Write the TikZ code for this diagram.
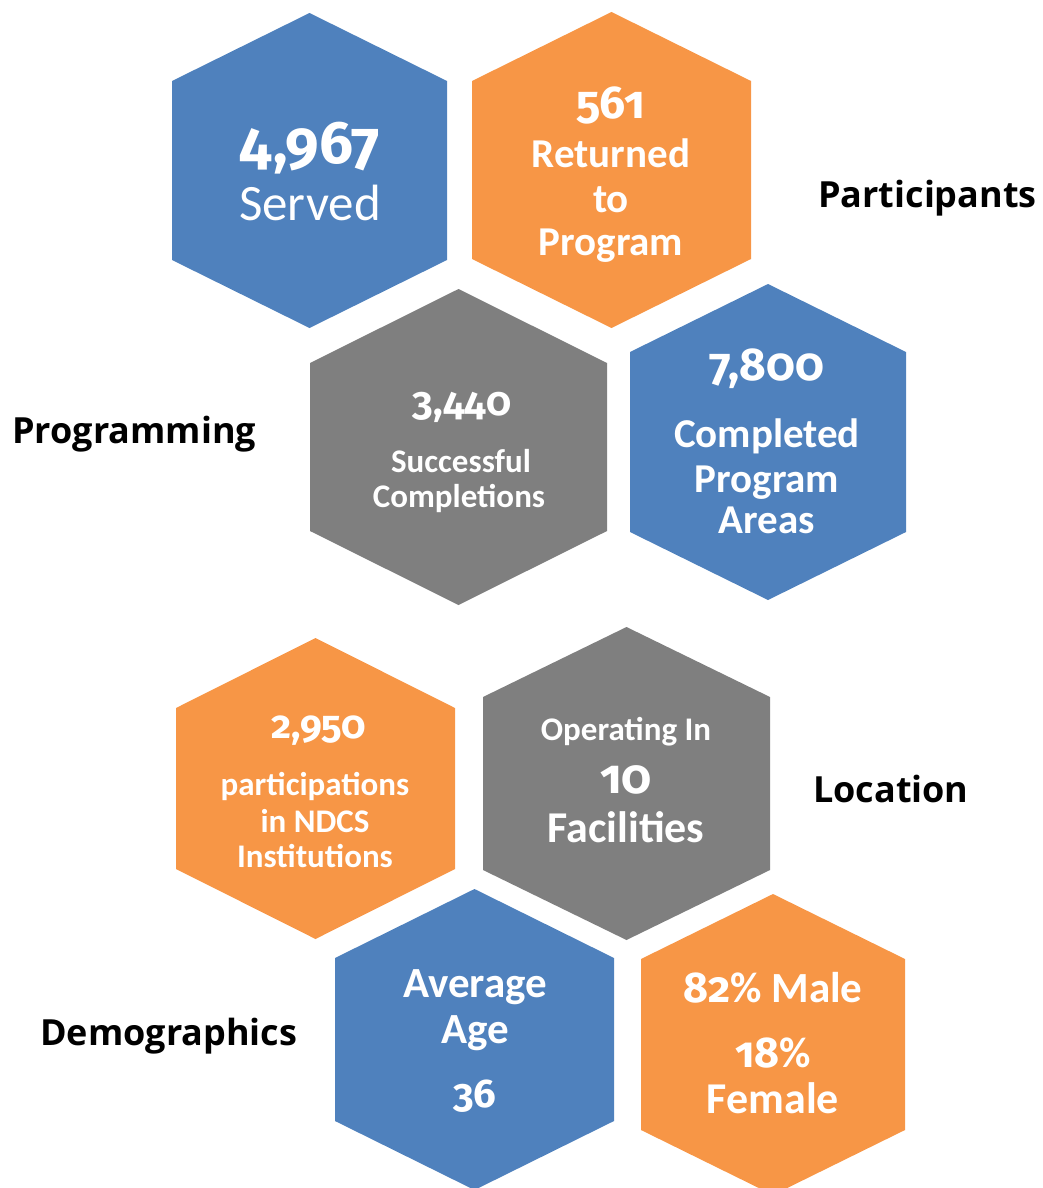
\documentclass[tikz,border=0pt]{standalone}
\usepackage{fontspec}
\setmainfont{Carlito}
\newfontfamily\numfont{Fira Sans}[Numbers=OldStyle]
\newfontfamily\labelfont{Open Sans}
\definecolor{hexblue}{HTML}{4F81BD}
\definecolor{hexorange}{HTML}{F79646}
\definecolor{hexgray}{HTML}{7F7F7F}
\newcommand\hexshape[6]{%
  \fill[#6] (#1,#3+#5) -- ({(#1+#2)/2},#3) -- (#2,#3+#5) -- (#2,#4-#5) -- ({(#1+#2)/2},#4) -- (#1,#4-#5) -- cycle;}
\newcommand\fs[1]{\fontsize{#1}{#1}\selectfont}
\begin{document}
\begin{tikzpicture}[x=1pt,y=-1pt,
  txt/.style={text=white, anchor=base, inner sep=0pt, font=\bfseries\fs{#1}},
  num/.style={text=white, anchor=base, inner sep=0pt, font=\numfont\bfseries\fs{#1}},
  lbl/.style={text=black, anchor=base west, inner sep=0pt, font=\labelfont\bfseries\fs{36}}]
\useasboundingbox (0,0) rectangle (1042,1188);
\clip (0,0) rectangle (1042,1188);
% hexagons
\hexshape{172}{447}{13}{328}{68}{hexblue}
\hexshape{472}{751}{12}{328}{69}{hexorange}
\hexshape{310}{607}{289}{605}{74}{hexgray}
\hexshape{630}{906}{284}{600}{68}{hexblue}
\hexshape{176}{455}{638}{939}{70}{hexorange}
\hexshape{483}{770}{627}{940}{70}{hexgray}
\hexshape{335}{614}{889}{1190}{69}{hexblue}
\hexshape{641}{905}{894}{1195}{65}{hexorange}
% hex 1
\node[num=60] (servedNum) at (310,163) {4,967};
\node[txt=51, font=\fs{51}] (served) at (310,220) {Served};
% hex 2
\node[num=46] (retNum) at (611,118) {561};
\node[txt=41] (ret1) at (611,167) {Returned};
\node[txt=41] (ret2) at (611,212) {to};
\node[txt=41] (ret3) at (611,255) {Program};
% hex 3
\node[num=40] (sucNum) at (462,415) {3,440};
\node[txt=33] (suc1) at (461,472) {Successful};
\node[txt=33] (suc2) at (459,507) {Completions};
% hex 4
\node[num=46] (cpaNum) at (767,380) {7,800};
\node[txt=41] (cpa1) at (767,447) {Completed};
\node[txt=41] (cpa2) at (767,492) {Program};
\node[txt=41] (cpa3) at (767,533) {Areas};
% hex 5
\node[num=39] (ndcsNum) at (319,738) {2,950};
\node[txt=33] (ndcs1) at (315,795) {participations};
\node[txt=33] (ndcs2) at (315,832) {in NDCS};
\node[txt=33] (ndcs3) at (315,867) {Institutions};
% hex 6
\node[txt=33] (fac1) at (626,740) {Operating In};
\node[num=48] (facNum) at (626,793) {10};
\node[txt=44] (fac2) at (626,842) {Facilities};
% hex 7
\node[txt=43] (age1) at (475,997) {Average};
\node[txt=43] (age2) at (475,1043) {Age};
\node[num=40] (ageNum) at (475,1107) {36};
% hex 8
\node[txt=43] (sex1) at (773,1002) {{\numfont 82}\% Male};
\node[txt=43] (sex2) at (773,1067) {{\numfont 18}\%};
\node[txt=44] (sex3) at (773,1113) {Female};
% side labels
\node[lbl] (participants) at (818,207) {Participants};
\node[lbl] (programming) at (12,443) {Programming};
\node[lbl] (location) at (813,802) {Location};
\node[lbl] (demographics) at (40,1045) {Demographics};
\end{tikzpicture}
\end{document}
